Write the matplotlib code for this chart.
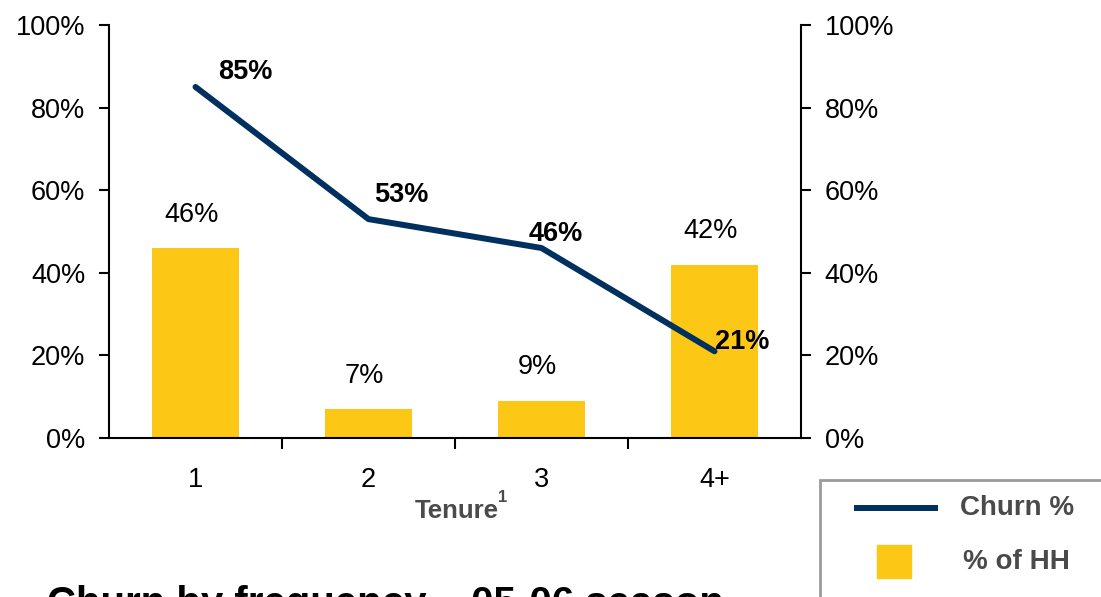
import matplotlib.pyplot as plt
from matplotlib.lines import Line2D
from matplotlib.patches import Rectangle
import numpy as np

plt.rcParams['font.family'] = ['Liberation Sans', 'DejaVu Sans']

tenure = ['1', '2', '3', '4+']
churn = [85, 53, 46, 21]
hh_share = [46, 7, 9, 42]

navy = '#00305F'
gold = '#FCC815'
grey = '#4A4A4A'

# label nudges for the churn line (points)
churn_offsets = [(16, 11), (4, 17), (-9, 10), (0, 7)]

fig = plt.figure(figsize=(11.01, 5.97), dpi=100)
ax = fig.add_axes([109 / 1101, 159 / 597, 692 / 1101, 413 / 597])
x = np.arange(len(tenure))

ax.bar(x, hh_share, width=0.5, color=gold, zorder=2)
ax.plot(x, churn, color=navy, lw=4.3, solid_capstyle='round', zorder=3)

for xi, v in zip(x, hh_share):
    ax.annotate(f'{v}%', (xi, v), xytext=(-3, 24), textcoords='offset points',
                ha='center', va='center', fontsize=19.5)
for xi, v, off in zip(x, churn, churn_offsets):
    ax.annotate(f'{v}%', (xi, v), xytext=off, textcoords='offset points',
                ha='left', va='center', fontsize=19.5, fontweight='bold', zorder=4)

ax.set_xlim(-0.5, 3.5)
ax.set_ylim(0, 100)
ax.set_yticks(range(0, 101, 20))
ax.set_yticklabels([f'{t}%' for t in range(0, 101, 20)])
ax.set_xticks(x)
ax.set_xticklabels(tenure)
ax.set_xticks(x[:-1] + 0.5, minor=True)
ax.tick_params(axis='x', which='major', length=0, pad=21, labelsize=19.5)
ax.tick_params(axis='x', which='minor', length=8, width=1.5)
ax.tick_params(axis='y', length=7, width=1.5, pad=10, labelsize=19.5,
               right=True, labelright=True)

ax.spines['top'].set_visible(False)
for s in ['left', 'right', 'bottom']:
    ax.spines[s].set_linewidth(1.5)

W, H = 1101, 597

# axis title with footnote marker
fig.text(415 / W, 1 - 518 / H, 'Tenure', ha='left', va='baseline',
         fontsize=18.5, fontweight='bold', color=grey)
fig.text(498 / W, 1 - 502 / H, '1', ha='left', va='baseline',
         fontsize=12, fontweight='bold', color=grey)

fig.text(47 / W, -0.03, 'Churn by frequency \u2013 05-06 season', ha='left',
         va='baseline', fontsize=29, fontweight='bold')

# legend panel
fig.patches.append(Rectangle((820 / W, -0.1), 0.5, 1 - 480 / H + 0.1,
                             transform=fig.transFigure, fill=False,
                             edgecolor='#9A9A9A', lw=2))
fig.lines.append(Line2D([857 / W, 935 / W], [1 - 508 / H] * 2,
                        transform=fig.transFigure, color=navy, lw=4.3))
fig.patches.append(Rectangle((877 / W, 1 - 578 / H), 34 / W, 33 / H,
                             transform=fig.transFigure, color=gold))
fig.text(960 / W, 1 - 508 / H, 'Churn %', ha='left', va='center',
         fontsize=20, fontweight='bold', color=grey)
fig.text(963 / W, 1 - 562 / H, '% of HH', ha='left', va='center',
         fontsize=20, fontweight='bold', color=grey)

fig.savefig('out.png', dpi=100)
